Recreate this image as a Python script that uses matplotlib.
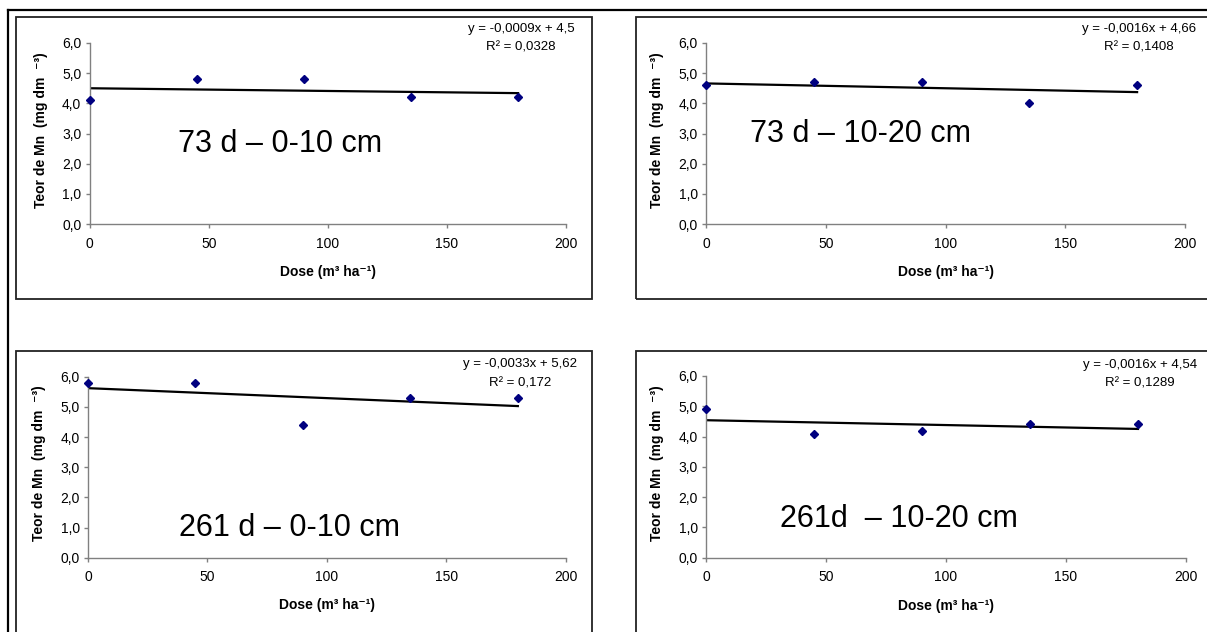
"""
Teor de Mn x dose - four panels with linear trendlines
"""

import matplotlib
matplotlib.use("Agg")
import matplotlib.pyplot as plt
from matplotlib.patches import Rectangle
from matplotlib.lines import Line2D
import numpy as np

plt.rcParams['font.family'] = ['Liberation Sans', 'DejaVu Sans']

# data
doses = [0, 45, 90, 135, 180]
mn_73_0_10 = [4.1, 4.8, 4.8, 4.2, 4.2]
mn_73_10_20 = [4.6, 4.7, 4.7, 4.0, 4.6]
mn_261_0_10 = [5.8, 5.8, 4.4, 5.3, 5.3]
mn_261_10_20 = [4.9, 4.1, 4.2, 4.4, 4.4]

slopes = [-0.0009, -0.0016, -0.0033, -0.0016]
intercepts = [4.5, 4.66, 5.62, 4.54]
eq_labels = ["y = -0,0009x + 4,5", "y = -0,0016x + 4,66",
             "y = -0,0033x + 5,62", "y = -0,0016x + 4,54"]
r2_labels = ["R² = 0,0328", "R² = 0,1408", "R² = 0,172", "R² = 0,1289"]
titles = ["73 d – 0-10 cm", "73 d – 10-20 cm",
          "261 d – 0-10 cm", "261d  – 10-20 cm"]

x_ticks = [0, 50, 100, 150, 200]
y_ticks = [0, 1, 2, 3, 4, 5, 6]

W, H = 1207, 632

# layout in pixels
axes_px = [(89.7, 565.7, 43, 224), (706, 1185, 43, 224),
           (88, 565.6, 376.7, 557.7), (706, 1186, 376, 557.7)]
box_px = [(16, 592, 17, 299), (636, 1212, 17, 299),
          (16, 592, 351, 640), (636, 1212, 351, 640)]
eq_px = [(521, 29, 48), (1139, 29, 48), (520, 364, 383), (1140, 365, 384)]
title_pos = [(0.186, 0.44), (0.092, 0.495), (0.19, 0.165), (0.154, 0.215)]


def fx(x):
    return x / W


def fy(y):
    return 1 - y / H


def main():
    fig = plt.figure(figsize=(W / 100, H / 100), dpi=100)
    series = [mn_73_0_10, mn_73_10_20, mn_261_0_10, mn_261_10_20]

    # outer frame (only top and left visible)
    fig.add_artist(Line2D([fx(8), fx(8)], [fy(10), fy(640)], color='black',
                          lw=1.6, transform=fig.transFigure))
    fig.add_artist(Line2D([fx(8), fx(1210)], [fy(10), fy(10)], color='black',
                          lw=1.6, transform=fig.transFigure))

    for i in range(4):
        bx0, bx1, by0, by1 = box_px[i]
        fig.add_artist(Rectangle((fx(bx0), fy(by1)), (bx1 - bx0) / W, (by1 - by0) / H,
                                 fill=False, edgecolor='#222222', lw=1.3,
                                 transform=fig.transFigure))

        x0, x1, y0, y1 = axes_px[i]
        ax = fig.add_axes([fx(x0), fy(y1), (x1 - x0) / W, (y1 - y0) / H])
        ax.set_xlim(0, 200)
        ax.set_ylim(0, 6)
        ax.patch.set_visible(False)

        ax.plot(doses, series[i], 'D', color='#000080', markersize=4.5, clip_on=False, zorder=3)
        xl = np.array([doses[0], doses[-1]])
        ax.plot(xl, slopes[i] * xl + intercepts[i], '-', color='black', lw=1.6, zorder=2)

        for s in ['top', 'right']:
            ax.spines[s].set_visible(False)
        for s in ['left', 'bottom']:
            ax.spines[s].set_color('#808080')
            ax.spines[s].set_linewidth(1.0)
        ax.set_xticks(x_ticks)
        ax.set_yticks(y_ticks)
        ax.set_yticklabels([("%.1f" % v).replace('.', ',') for v in y_ticks])
        ax.tick_params(axis='both', direction='out', length=3, width=1,
                       color='#808080', labelsize=10, labelcolor='black')
        ax.tick_params(axis='x', pad=6)
        ax.tick_params(axis='y', pad=3)

        ax.set_ylabel("Teor de Mn  (mg dm  ⁻³)", fontsize=10, fontweight='bold')
        ax.yaxis.set_label_coords(-0.088, 0.52)
        ax.set_xlabel("Dose (m³ ha⁻¹)", fontsize=10, fontweight='bold')
        ax.xaxis.set_label_coords(0.5, -0.225)

        tx, ty = title_pos[i]
        ax.text(tx, ty, titles[i], transform=ax.transAxes, fontsize=22,
                ha='left', va='center')

        cx, ey1, ey2 = eq_px[i]
        fig.text(fx(cx), fy(ey1), eq_labels[i], fontsize=9.5, ha='center', va='center')
        fig.text(fx(cx), fy(ey2), r2_labels[i], fontsize=9.5, ha='center', va='center')

    plt.savefig("out.png", dpi=100)


if __name__ == '__main__':
    main()
